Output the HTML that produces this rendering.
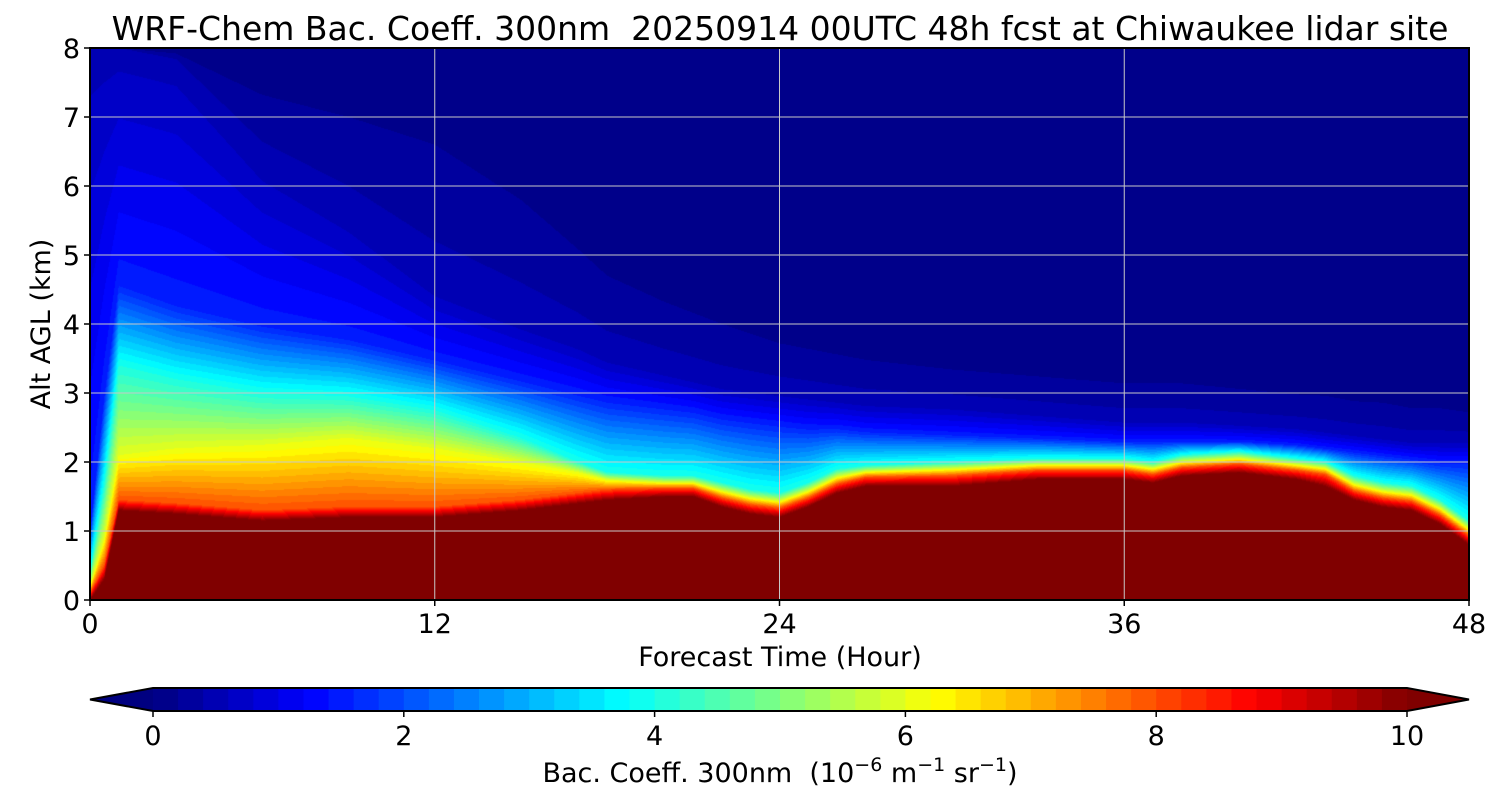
<!DOCTYPE html>
<html><head><meta charset="utf-8"><style>
body{margin:0;background:#fff;width:1500px;height:800px;overflow:hidden;font-family:"DejaVu Sans",sans-serif}
#wrap{position:relative;width:1500px;height:800px}
canvas{position:absolute;left:90px;top:48px}
svg{position:absolute;left:0;top:0}
text{font-family:"DejaVu Sans","Liberation Sans",sans-serif;fill:#000;white-space:pre}
</style></head><body>
<div id="wrap">
<canvas id="cv" width="1379" height="552"></canvas>
<svg id="sv" width="1500" height="800"></svg>
</div>
<script>
// Data: forecast hours and heights (km) of contour levels
const times   = [0,0.5,1,3,6,9,12,15,17,18,20,21,22,23,24,25,26,27,30,33,36,37,38,40,42,43,44,45,46,47,48];
const levels  = [10,8,6,4,1.5,0.5,0];
const h10  = [0,0.3,1.3,1.25,1.15,1.2,1.2,1.3,1.4,1.45,1.5,1.5,1.35,1.25,1.2,1.35,1.55,1.65,1.65,1.75,1.75,1.7,1.8,1.85,1.75,1.65,1.45,1.35,1.3,1.1,0.8];
const h8   = [0.1,0.5,1.45,1.4,1.3,1.35,1.35,1.45,1.55,1.6,1.62,1.62,1.48,1.38,1.33,1.48,1.68,1.78,1.8,1.88,1.88,1.82,1.92,1.97,1.88,1.82,1.58,1.48,1.43,1.23,0.93];
const h6   = [0.2,0.9,2.1,2.2,2.25,2.35,2.2,2.0,1.85,1.74,1.7,1.7,1.58,1.48,1.43,1.58,1.78,1.86,1.9,1.96,1.96,1.91,2.0,2.05,1.96,1.91,1.68,1.58,1.53,1.33,1.03];
const h4   = [0.4,1.7,3.4,3.2,3.0,2.95,2.75,2.35,2.0,1.85,1.8,1.8,1.7,1.6,1.55,1.7,1.9,1.95,2.0,2.05,2.05,2.0,2.1,2.15,2.05,2.0,1.8,1.7,1.65,1.45,1.15];
const h15  = [1.0,3.0,4.6,4.3,4.0,3.8,3.5,3.2,3.0,2.9,2.8,2.75,2.65,2.6,2.55,2.5,2.5,2.45,2.4,2.35,2.3,2.3,2.3,2.3,2.25,2.2,2.15,2.1,2.05,2.0,2.0];
const h05  = [8,8,8,7.8,6.3,5.5,4.5,4.0,3.7,3.5,3.3,3.2,3.1,3.05,3.0,2.95,2.9,2.85,2.8,2.7,2.6,2.6,2.6,2.55,2.5,2.45,2.4,2.35,2.3,2.3,2.3];
const h0   = [8,8,8,8,8,8,8,7,6,5.5,5,4.8,4.6,4.4,4.2,4.1,4,3.9,3.7,3.6,3.5,3.5,3.5,3.4,3.3,3.3,3.2,3.2,3.1,3.1,3.0];
const xTicks = [0,12,24,36,48];
const yTicks = [0,1,2,3,4,5,6,7,8];
const cbTicks = [0,2,4,6,8,10];

const X0=90,X1=1469,Y0=600,Y1=48;
const xs=t=>X0+(t/48)*(X1-X0);
const ys=h=>Y0-(h/8)*(Y0-Y1);
function jet(x){x=Math.max(0,Math.min(1,x));const c=v=>Math.round(255*Math.max(0,Math.min(1,v)));
 return [c(1.5-Math.abs(4*x-3)),c(1.5-Math.abs(4*x-2)),c(1.5-Math.abs(4*x-1))];}
function interpT(arr,t){for(let i=0;i<times.length-1;i++){if(t<=times[i+1]){const f=(t-times[i])/(times[i+1]-times[i]);return arr[i]+f*(arr[i+1]-arr[i]);}}return arr[arr.length-1];}
const cols=[h10,h8,h6,h4,h15,h05,h0];
function value(t,h){
 const hs=cols.map(a=>interpT(a,t));
 if(h<=hs[0]) return 10.5;
 for(let i=0;i<hs.length-1;i++){ if(h<=hs[i+1]||i==hs.length-2){const d=Math.max(hs[i+1]-hs[i],0.01);const f=Math.min(1,(h-hs[i])/d);return levels[i]+f*(levels[i+1]-levels[i]);}}
 return 0;}
const cv=document.getElementById('cv'),ctx=cv.getContext('2d');
const W=cv.width,H=cv.height,img=ctx.createImageData(W,H);
for(let px=0;px<W;px++){const t=(px+0.5)/W*48;
 for(let py=0;py<H;py++){const h=(H-py-0.5)/H*8;let v=value(t,h);
  v=Math.floor(v/0.2)*0.2+0.1; const c=jet(v/10);const k=(py*W+px)*4;
  img.data[k]=c[0];img.data[k+1]=c[1];img.data[k+2]=c[2];img.data[k+3]=255;}}
ctx.putImageData(img,0,0);

const NS='http://www.w3.org/2000/svg',sv=document.getElementById('sv');
function el(tag,a,txt){const e=document.createElementNS(NS,tag);for(const k in a)e.setAttribute(k,a[k]);if(txt!=null)e.textContent=txt;sv.appendChild(e);return e;}
for(const t of xTicks){const g=el('line',{x1:xs(t),x2:xs(t),y1:Y1,y2:Y0,stroke:'#c8c8c8','stroke-width':1});
 
 }
for(const h of yTicks){const g=el('line',{x1:X0,x2:X1,y1:ys(h),y2:ys(h),stroke:'#c8c8c8','stroke-width':1});
 
 }
const fr=el('rect',{x:X0,y:Y1,width:X1-X0,height:Y0-Y1,fill:'none',stroke:'#000','stroke-width':2});


for(const t of xTicks){el('line',{x1:xs(t),x2:xs(t),y1:Y0,y2:Y0+6,stroke:'#000','stroke-width':1.5});
 const l=el('text',{x:xs(t),y:Y0+33,'font-size':27,'text-anchor':'middle'},t);
 
 }
for(const h of yTicks){el('line',{x1:X0-6,x2:X0,y1:ys(h),y2:ys(h),stroke:'#000','stroke-width':1.5});
 const l=el('text',{x:X0-10,y:ys(h)+10,'font-size':27,'text-anchor':'end'},h);
 
 }
let e;
e=el('text',{x:780,y:40,'font-size':33,'text-anchor':'middle'},'WRF-Chem Bac. Coeff. 300nm  20250914 00UTC 48h fcst at Chiwaukee lidar site');


e=el('text',{x:780,y:666,'font-size':27,'text-anchor':'middle'},'Forecast Time (Hour)');


e=el('text',{x:0,y:0,'font-size':27,'text-anchor':'middle',transform:'translate(50,324) rotate(-90)'},'Alt AGL (km)');


const CB0=153,CB1=1407,CBy=688,CBh=23,N=50;
for(let i=0;i<N;i++){const c=jet((i+0.5)/N);
 const r=el('rect',{x:CB0+i*(CB1-CB0)/N,y:CBy,width:(CB1-CB0)/N+0.6,height:CBh,fill:`rgb(${c})`});
 
 }
e=el('polygon',{points:`${CB0},${CBy} ${X0},${CBy+CBh/2} ${CB0},${CBy+CBh}`,fill:'rgb(0,0,128)'});


e=el('polygon',{points:`${CB1},${CBy} ${X1},${CBy+CBh/2} ${CB1},${CBy+CBh}`,fill:'rgb(128,0,0)'});


el('polygon',{points:`${CB0},${CBy} ${CB1},${CBy} ${X1},${CBy+CBh/2} ${CB1},${CBy+CBh} ${CB0},${CBy+CBh} ${X0},${CBy+CBh/2}`,fill:'none',stroke:'#000','stroke-width':2});
for(const v of cbTicks){const x=CB0+v/10*(CB1-CB0);
 el('line',{x1:x,x2:x,y1:CBy+CBh,y2:CBy+CBh+6,stroke:'#000','stroke-width':1.5});
 const l=el('text',{x:x,y:745,'font-size':27,'text-anchor':'middle'},v);
 
 }
e=el('text',{x:780,y:782,'font-size':27,'text-anchor':'middle'});


e.innerHTML='Bac. Coeff. 300nm  (10<tspan font-size="19" dy="-11">−6</tspan><tspan dy="11"> m</tspan><tspan font-size="19" dy="-11">−1</tspan><tspan dy="11"> sr</tspan><tspan font-size="19" dy="-11">−1</tspan><tspan dy="11">)</tspan>';
</script>
</body></html>
